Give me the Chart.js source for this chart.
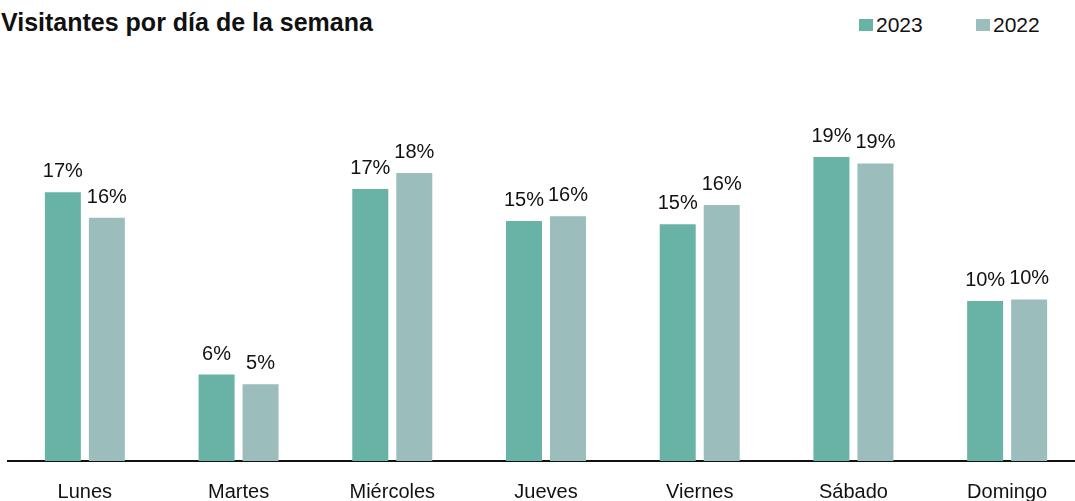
<!DOCTYPE html>
<html>
<head>
<meta charset="utf-8">
<script src="https://cdn.jsdelivr.net/npm/chart.js@4/dist/chart.umd.min.js"></script>
<style>
  html, body { margin: 0; padding: 0; background: #fff; overflow: hidden; }
  body { width: 1075px; height: 501px; position: relative; font-family: 'Liberation Sans', Arial, sans-serif; color: #111; }
  #title { position: absolute; left: 1px; top: 10px; font-size: 25px; line-height: 25px; font-weight: bold; white-space: nowrap; }
  .leg { position: absolute; top: 14px; font-size: 21px; line-height: 21px; white-space: nowrap; }
  .box { position: absolute; top: 19px; width: 14px; height: 12px; }
  #chart { position: absolute; left: 0; top: 0; }
</style>
</head>
<body>
<div id="title">Visitantes por día de la semana</div>
<div class="box" style="left:859px;background:#68b2a6"></div>
<div class="leg" style="left:876px">2023</div>
<div class="box" style="left:976px;background:#9bbdbb"></div>
<div class="leg" style="left:993px">2022</div>
<canvas id="chart" width="1084" height="501"></canvas>
<script>
const days = ['Lunes', 'Martes', 'Miércoles', 'Jueves', 'Viernes', 'Sábado', 'Domingo'];
const visits2023 = [16.8, 5.4, 17.0, 15.0, 14.8, 19.0, 10.0];
const visits2022 = [15.2, 4.8, 18.0, 15.3, 16.0, 18.6, 10.1];
const labels2023 = ['17%', '6%', '17%', '15%', '15%', '19%', '10%'];
const labels2022 = ['16%', '5%', '18%', '16%', '16%', '19%', '10%'];

const FONT = "'Liberation Sans', Arial, sans-serif";

// percentage text above each bar
const barLabels = {
  id: 'barLabels',
  afterDatasetsDraw(chart) {
    const ctx = chart.ctx;
    const texts = [labels2023, labels2022];
    ctx.save();
    ctx.font = '20px ' + FONT;
    ctx.fillStyle = '#111';
    ctx.textAlign = 'center';
    ctx.textBaseline = 'alphabetic';
    chart.data.datasets.forEach((ds, i) => {
      chart.getDatasetMeta(i).data.forEach((bar, j) => {
        ctx.fillText(texts[i][j], bar.x, bar.y - 15);
      });
    });
    ctx.restore();
  }
};

new Chart(document.getElementById('chart'), {
  type: 'bar',
  data: {
    labels: days,
    datasets: [
      {
        label: '2023',
        data: visits2023,
        backgroundColor: '#68b2a6',
        categoryPercentage: 0.5725,
        barPercentage: 0.818
      },
      {
        label: '2022',
        data: visits2022,
        backgroundColor: '#9bbdbb',
        categoryPercentage: 0.5725,
        barPercentage: 0.818
      }
    ]
  },
  options: {
    responsive: false,
    animation: false,
    devicePixelRatio: 1,
    layout: {
      padding: { left: 8, right: 0, top: 141, bottom: 0 }
    },
    plugins: {
      legend: { display: false },
      tooltip: { enabled: false }
    },
    scales: {
      x: {
        grid: { display: true, color: 'transparent', drawTicks: false },
        border: { display: true, color: '#111', width: 2 },
        ticks: {
          color: '#111',
          padding: 19,
          font: { family: FONT, size: 20 }
        },
        afterFit(scale) {
          scale.height = 40;
        }
      },
      y: {
        display: false,
        min: 0,
        max: 20
      }
    }
  },
  plugins: [barLabels]
});
</script>
</body>
</html>
